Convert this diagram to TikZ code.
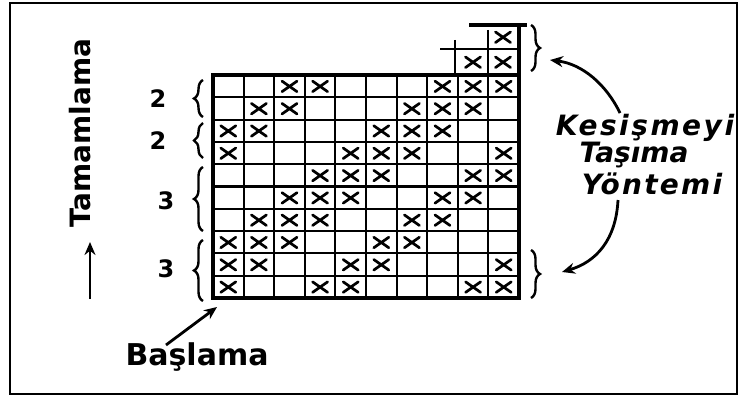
\documentclass[tikz,border=0pt]{standalone}
\usepackage{fontspec}
\setmainfont{DejaVu Sans}
\usetikzlibrary{decorations.pathreplacing,arrows.meta}
\begin{document}
\begin{tikzpicture}[x=1pt,y=-1pt,
  gridline/.style={line width=2.1pt},
  frame/.style={line width=4pt},
  xmark/.pic={\draw[line width=2.7pt,line cap=round] (-7.5,-5) -- (7.5,5.5) (-7.5,5.5) -- (7.5,-5);},
  cbrace/.style={decorate,decoration={brace,amplitude=9pt},line width=2.4pt},
  hand/.style={font=\fontsize{28}{30}\selectfont\bfseries,inner sep=0pt},
  num/.style={font=\fontsize{24}{26}\selectfont\bfseries,inner sep=0pt},
  arr/.style={-{Stealth[length=13pt,width=11pt]},line width=2.8pt}]
\useasboundingbox (0,0) rectangle (746,396);
\draw[line width=2.6pt] (10,3) rectangle (737,394);
% grid
\foreach \i in {1,...,9} \draw[gridline] ({213+30.6*\i},75) -- ({213+30.6*\i},298);
\foreach \j in {1,...,9} \draw[gridline] (213,{75+22.3*\j}) -- (519,{75+22.3*\j});
\draw[frame] (213,75) rectangle (519,298);
% crosses
\foreach \r/\cs in {1/{3,4,8,9,10},2/{2,3,7,8,9},3/{1,2,6,7,8},4/{1,5,6,7,10},5/{4,5,6,9,10},
  6/{3,4,5,8,9},7/{2,3,4,7,8},8/{1,2,3,6,7},9/{1,2,5,6,10},10/{1,4,5,9,10}}
  \foreach \c in \cs \pic at ({213+30.6*(\c-0.5)},{75+22.3*(\r-0.5)}) {xmark};
% extension on top
\draw[frame] (519,75) -- (519,23);
\draw[frame] (469,25) -- (527,25);
\draw[gridline] (488,30) -- (488,75);
\draw[gridline] (455,40) -- (455,75);
\draw[gridline] (440,49) -- (519,49);
\pic at (473,62) {xmark};
\pic at (503,62) {xmark};
\pic at (503,37) {xmark};
% left braces and numbers
\draw[cbrace] (203,117) -- (203,80);
\draw[cbrace] (203,158) -- (203,123);
\draw[cbrace] (203,231) -- (203,167);
\draw[cbrace] (203,301) -- (203,240);
\node[num] (n1) at (158,99) {2};
\node[num] (n2) at (158,141) {2};
\node[num] (n3) at (166,201) {3};
\node[num] (n4) at (166,269) {3};
% right braces
\draw[cbrace] (531,25) -- (531,71);
\draw[cbrace] (531,250) -- (531,298);
\coordinate (upb) at (550,60);
\coordinate (lob) at (562,272);
% texts
\node[hand,rotate=90] (tam) at (80,133) {Tamamlama};
\coordinate (tamS) at (90,299);
\coordinate (tamE) at (90,242);
\draw[arr] (tamS) -- (tamE);
\node[hand,font=\fontsize{30}{32}\selectfont\bfseries] (bas) at (197,357) {Başlama};
\coordinate (basS) at (166,345);
\coordinate (corner) at (217,307);
\draw[arr] (basS) -- (corner);
\node[hand,font=\fontsize{28}{30}\selectfont\bfseries\itshape] (kes) at (645,128) {\addfontfeature{LetterSpace=9}Kesişmeyi};
\node[hand,font=\fontsize{28}{30}\selectfont\bfseries\itshape] (tas) at (634,155) {Taşıma};
\node[hand,font=\fontsize{28}{30}\selectfont\bfseries\itshape] (yon) at (652,184) {\addfontfeature{LetterSpace=8}Yöntemi};
\draw[arr] (620,113) .. controls (606,84) and (582,64) .. (upb);
\draw[arr] (618,200) .. controls (616,240) and (596,262) .. (lob);
\end{tikzpicture}
\end{document}
